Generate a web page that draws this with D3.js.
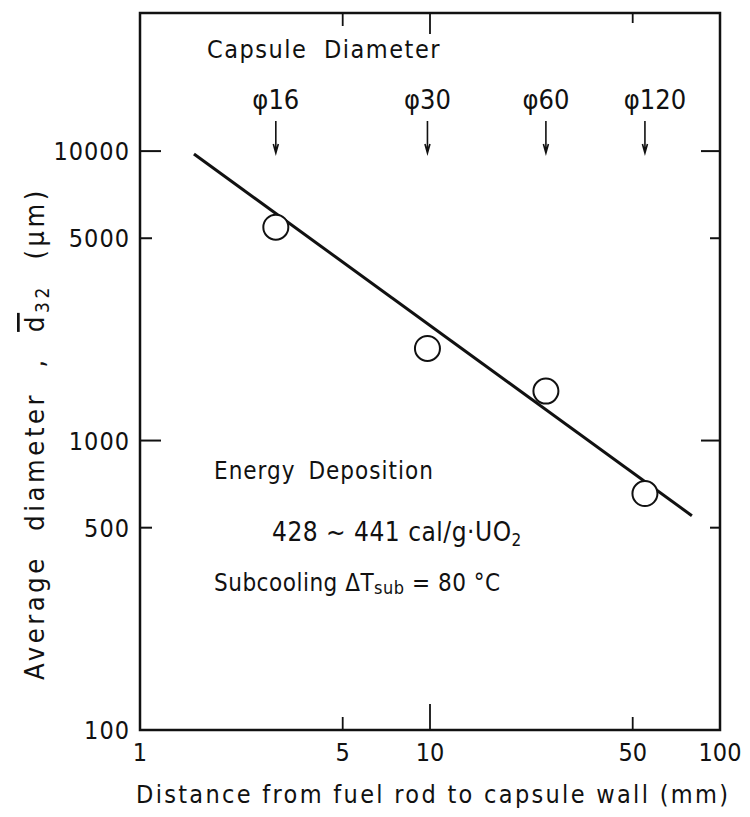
<!DOCTYPE html>
<html>
<head>
<meta charset="utf-8">
<script src="https://cdn.jsdelivr.net/npm/d3@7"></script>
<style>
  body { margin: 0; background: #fff; }
  text { font-family: "DejaVu Sans Condensed", "Liberation Sans Narrow", "DejaVu Sans", sans-serif; fill: #111; }
</style>
</head>
<body>
<div id="chart"></div>
<script>
// measured points (distance mm, Sauter mean diameter um)
const distance = [2.94, 9.8, 25.1, 55.1];
const diameter = [5460, 2080, 1482, 656];
// fitted line end points
const fitX = [1.535, 80];
const fitY = [9770, 550];
// capsule diameters, placed at the same distances
const capsules = ["φ16", "φ30", "φ60", "φ120"];
const xTickVals = [1, 5, 10, 50, 100];
const yTickVals = [100, 500, 1000, 5000, 10000];

const W = 750, H = 817;
const margin = { top: 13, right: 30, bottom: 87, left: 140 };

const svg = d3.select("#chart").append("svg")
    .attr("width", W)
    .attr("height", H);

const xScale = d3.scaleLog().domain([1, 100]).range([margin.left, W - margin.right]);
const yScale = d3.scaleLog().domain([100, 30000]).range([H - margin.bottom, margin.top]);

const x0 = xScale.range()[0], x1 = xScale.range()[1];
const y0 = yScale.range()[0], y1 = yScale.range()[1];

// frame
svg.append("rect")
    .attr("x", x0).attr("y", y1)
    .attr("width", x1 - x0).attr("height", y0 - y1)
    .attr("fill", "none").attr("stroke", "#111").attr("stroke-width", 2.5);

// inward ticks
const majorY = [1000, 10000], minorY = [500, 5000];
const tickLen = v => majorY.includes(v) ? 21 : 12;
[...majorY, ...minorY].forEach(v => {
    svg.append("line").attr("x1", x0).attr("x2", x0 + tickLen(v))
        .attr("y1", yScale(v)).attr("y2", yScale(v))
        .attr("stroke", "#111").attr("stroke-width", 2);
    svg.append("line").attr("x1", x1).attr("x2", x1 - tickLen(v) + 2)
        .attr("y1", yScale(v)).attr("y2", yScale(v))
        .attr("stroke", "#111").attr("stroke-width", 2);
});
const xTickLen = v => v === 10 ? 26 : 13;
const topTickLen = v => v === 10 ? 21 : (v === 5 ? 13 : 10);
[5, 10, 50].forEach(v => {
    svg.append("line").attr("x1", xScale(v)).attr("x2", xScale(v))
        .attr("y1", y0).attr("y2", y0 - xTickLen(v))
        .attr("stroke", "#111").attr("stroke-width", 1.8);
    svg.append("line").attr("x1", xScale(v)).attr("x2", xScale(v))
        .attr("y1", y1).attr("y2", y1 + topTickLen(v))
        .attr("stroke", "#111").attr("stroke-width", 1.8);
});

// tick labels
svg.selectAll(".ylab").data(yTickVals).join("text")
    .attr("class", "ylab")
    .attr("x", x0 - 10)
    .attr("y", d => yScale(d))
    .attr("dy", "0.36em")
    .attr("text-anchor", "end")
    .attr("font-size", 25)
    .attr("letter-spacing", 1)
    .text(d => d);

svg.selectAll(".xlab").data(xTickVals).join("text")
    .attr("class", "xlab")
    .attr("x", d => xScale(d))
    .attr("y", y0 + 31)
    .attr("text-anchor", "middle")
    .attr("font-size", 25)
    .text(d => d);

// axis titles
svg.append("text")
    .attr("x", 136)
    .attr("y", 803)
    .attr("font-size", 25)
    .attr("textLength", 592)
    .attr("lengthAdjust", "spacing")
    .text("Distance from fuel rod to capsule wall (mm)");

const yt = svg.append("text")
    .attr("transform", `translate(44, ${(y0 + y1) / 2 + 62}) rotate(-90)`)
    .attr("text-anchor", "middle")
    .attr("font-size", 27)
    .attr("letter-spacing", 3.6)
    .attr("word-spacing", 13);
yt.append("tspan").text("Average  diameter  ,  ");
yt.append("tspan").attr("text-decoration", "overline").text("d");
yt.append("tspan").attr("font-size", 19).attr("dy", 5).text("32");
yt.append("tspan").attr("dy", -5).text("  (μm)");

// fitted line
const line = d3.line().x(d => xScale(d[0])).y(d => yScale(d[1]));
svg.append("path")
    .datum(d3.zip(fitX, fitY))
    .attr("d", line)
    .attr("fill", "none")
    .attr("stroke", "#111")
    .attr("stroke-width", 3);

// data points
svg.selectAll(".pt").data(d3.zip(distance, diameter)).join("circle")
    .attr("class", "pt")
    .attr("cx", d => xScale(d[0]))
    .attr("cy", d => yScale(d[1]))
    .attr("r", 12.5)
    .attr("fill", "#fff")
    .attr("stroke", "#111")
    .attr("stroke-width", 2);

// capsule diameter annotation
svg.append("text")
    .attr("x", 207).attr("y", 58)
    .attr("font-size", 25)
    .attr("letter-spacing", 1.5)
    .attr("word-spacing", 8)
    .text("Capsule Diameter");

svg.selectAll(".cap").data(capsules).join("text")
    .attr("class", "cap")
    .attr("x", (d, i) => xScale(distance[i]) + (i === 3 ? 10 : 0))
    .attr("y", 109)
    .attr("text-anchor", "middle")
    .attr("font-size", 27)
    .attr("word-spacing", 2)
    .text(d => d);

svg.selectAll(".arrow").data(distance).join("path")
    .attr("class", "arrow")
    .attr("d", d => {
        const x = xScale(d);
        return `M${x},121 L${x},153 M${x - 2.5},144 L${x},153 L${x + 2.5},144`;
    })
    .attr("fill", "none")
    .attr("stroke", "#111")
    .attr("stroke-width", 1.6);

// condition notes
const notes = svg.append("g").attr("font-size", 24);
notes.append("text").attr("x", 214).attr("y", 479)
    .attr("letter-spacing", 1).attr("word-spacing", 5)
    .text("Energy Deposition");
const t2 = notes.append("text").attr("x", 272).attr("y", 541)
    .attr("font-size", 26).attr("letter-spacing", 0.5);
t2.append("tspan").text("428 ~ 441 cal/g·UO");
t2.append("tspan").attr("font-size", 17).attr("dy", 5).text("2");
const t3 = notes.append("text").attr("x", 214).attr("y", 591).attr("letter-spacing", 0.5);
t3.append("tspan").text("Subcooling  ΔT");
t3.append("tspan").attr("font-size", 18).attr("dy", 3).text("sub");
t3.append("tspan").attr("dy", -3).text(" = 80 °C");
</script>
</body>
</html>
